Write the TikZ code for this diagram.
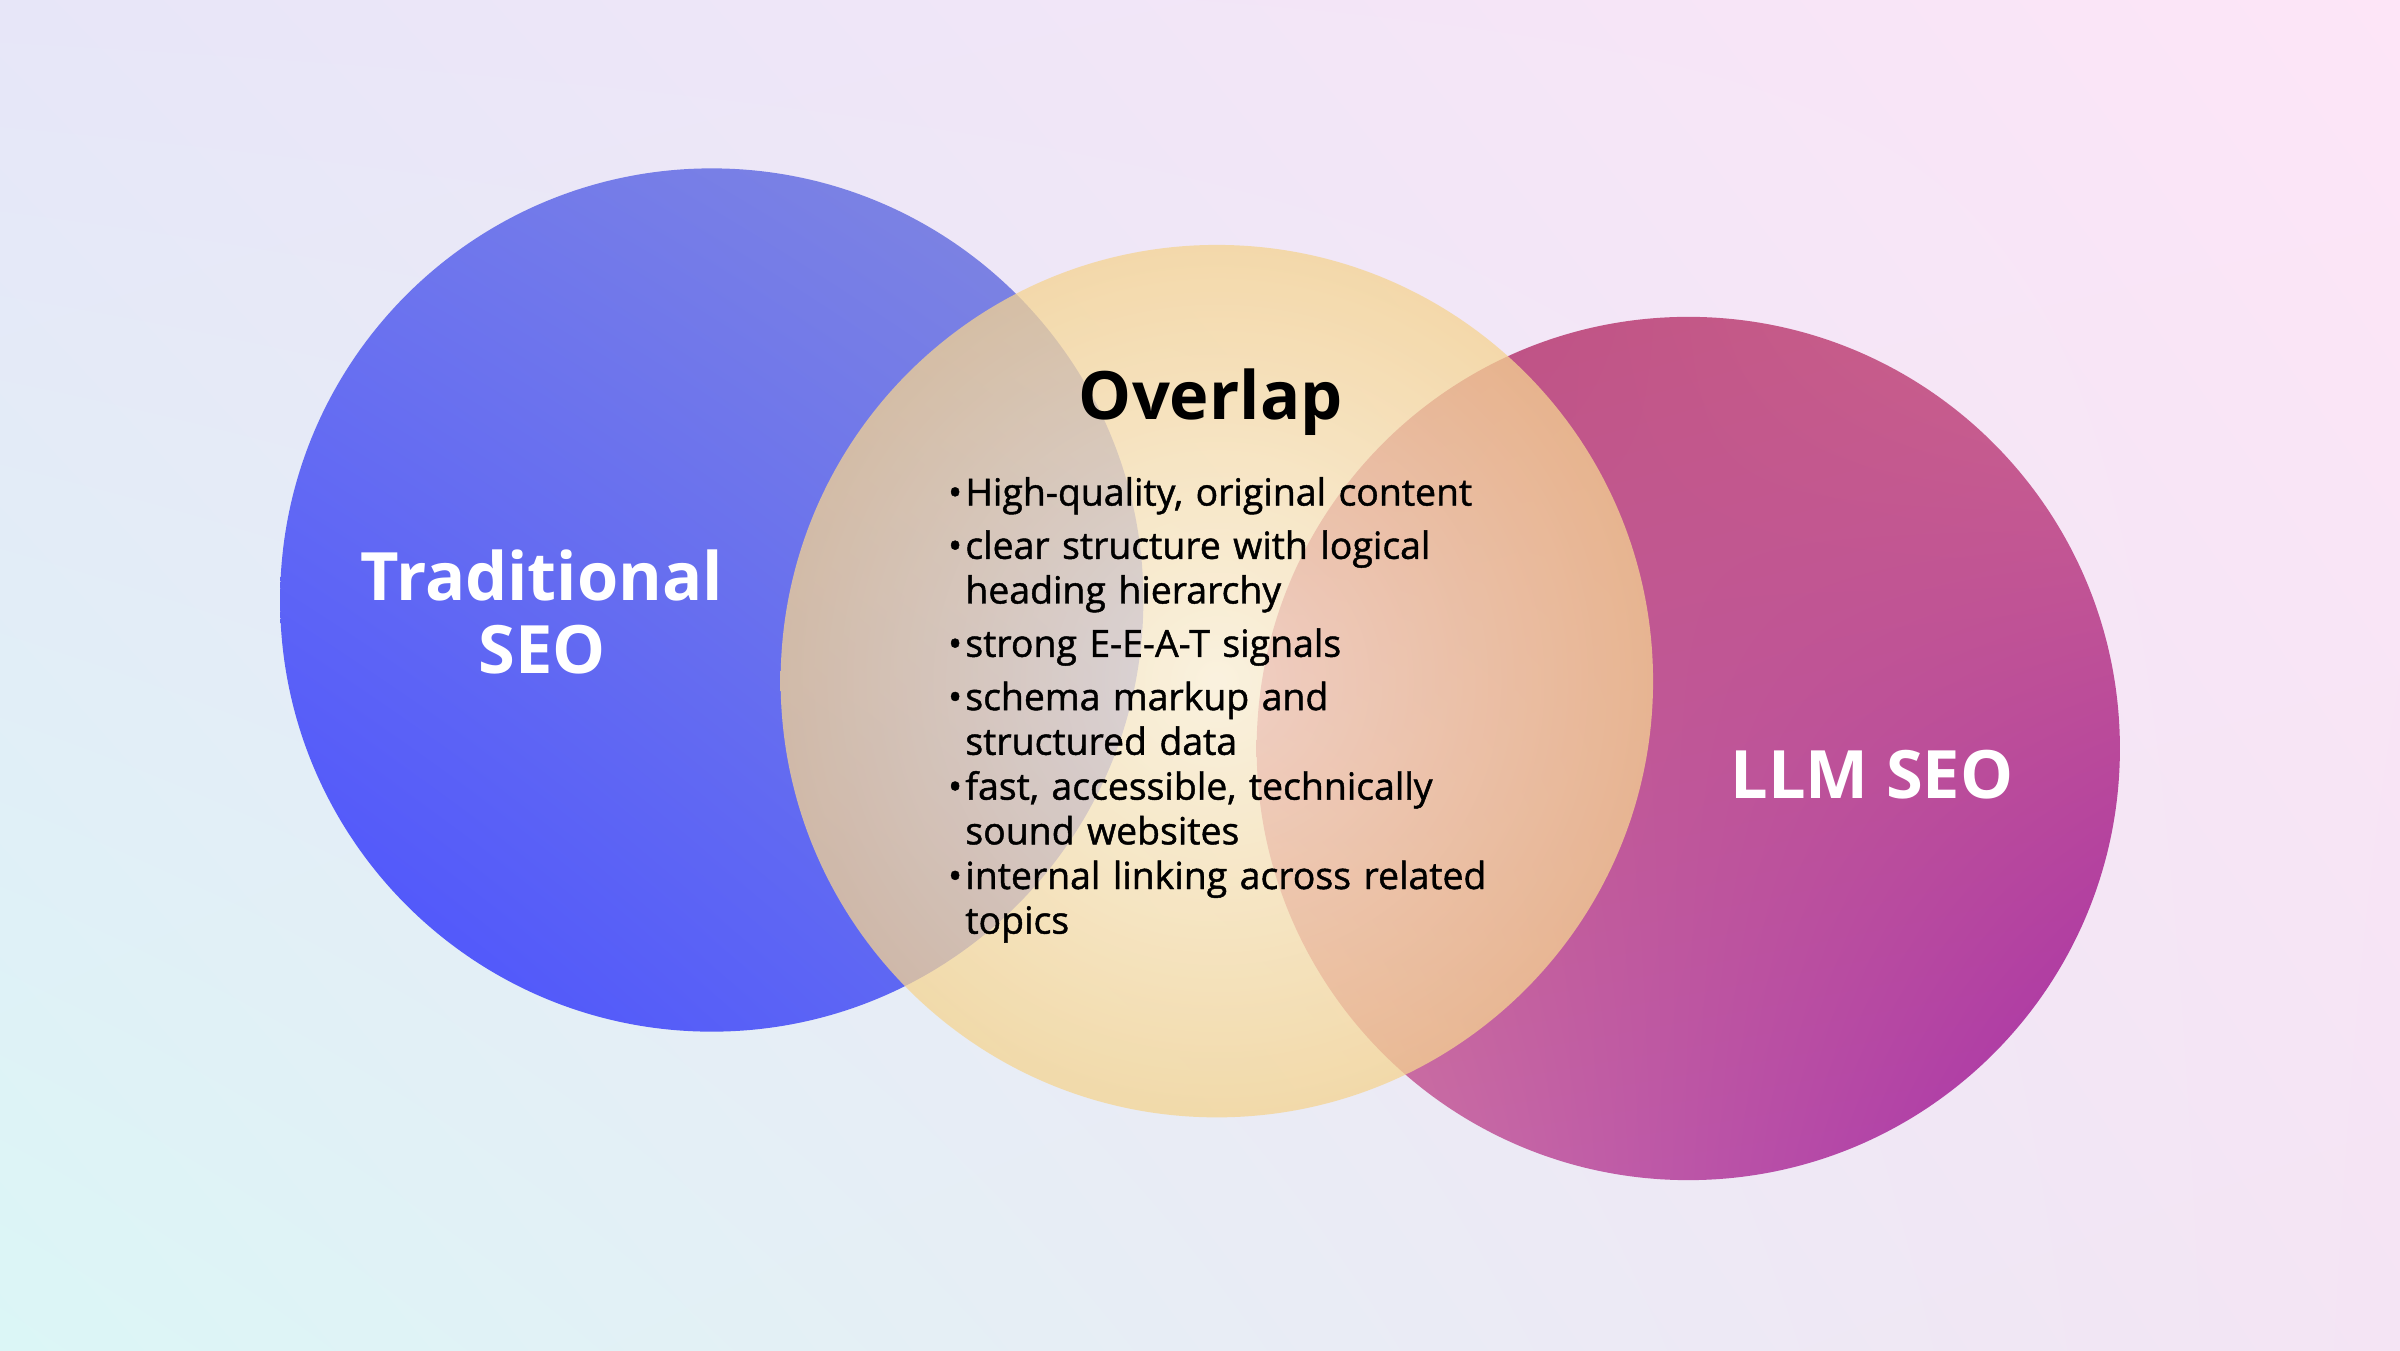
\documentclass[tikz,border=0pt]{standalone}
\usepackage{fontspec}
\setmainfont{Open Sans}
\newfontfamily\medfont{Open Sans}[FakeBold=1.2]
\usetikzlibrary{positioning,shadings}
\definecolor{bgA}{HTML}{E7E6F8}
\definecolor{bgB}{HTML}{FDE5F7}
\definecolor{bgC}{HTML}{DBF6F6}
\definecolor{bgD}{HTML}{F4E4F4}
\begin{document}
\begin{tikzpicture}[
title/.style={font=\bfseries\fontsize{12.4}{14.5}\selectfont, text=white, align=center},
bul/.style={anchor=north west, text width=3.7cm, align=left, inner sep=0pt,
  font=\medfont\fontsize{6.95}{8.3}\selectfont}
]
  \useasboundingbox (0,0) rectangle (15.68,8.82);
  % background
  \shade[upper left=bgA, upper right=bgB, lower left=bgC, lower right=bgD] (0,0) rectangle (15.68,8.82);

  % circles
  \shade[upper left={rgb,255:red,110;green,118;blue,238}, upper right={rgb,255:red,130;green,136;blue,222},
    lower left={rgb,255:red,74;green,80;blue,255}, lower right={rgb,255:red,100;green,110;blue,240}]
    (4.65,4.90) circle (2.82);
  \shade[upper left={rgb,255:red,185;green,75;blue,130}, upper right={rgb,255:red,205;green,100;blue,140},
    lower left={rgb,255:red,210;green,125;blue,165}, lower right={rgb,255:red,165;green,45;blue,170}]
    (11.03,3.93) circle (2.82);
  \shade[inner color={rgb,255:red,255;green,245;blue,215}, outer color={rgb,255:red,245;green,212;blue,145},
    fill opacity=0.75] (7.95,4.37) circle (2.85);

  % labels
  \node[title] (trad) at (3.54,4.82) {Traditional\\[-1pt]SEO};
  \node[title] (llm) at (12.23,3.76) {LLM SEO};
  \node[font=\bfseries\fontsize{12.4}{14.5}\selectfont] (overlap) at (7.91,6.19) {Overlap};

  \node[bul] (b1) at (6.30,5.71) {\llap{\textbullet\hspace{0.6pt}}High-quality, original content};
  \node[bul, below=0.9mm of b1.south west, anchor=north west] (b2) {\llap{\textbullet\hspace{0.6pt}}clear structure with logical\\heading hierarchy};
  \node[bul, below=0.9mm of b2.south west, anchor=north west] (b3) {\llap{\textbullet\hspace{0.6pt}}strong E-E-A-T signals};
  \node[bul, below=0.9mm of b3.south west, anchor=north west] (b4) {\llap{\textbullet\hspace{0.6pt}}schema markup and\\structured data};
  \node[bul, below=0.9mm of b4.south west, anchor=north west] (b5) {\llap{\textbullet\hspace{0.6pt}}fast, accessible, technically\\sound websites};
  \node[bul, below=0.9mm of b5.south west, anchor=north west] (b6) {\llap{\textbullet\hspace{0.6pt}}internal linking across related\\topics};
\end{tikzpicture}
\end{document}
